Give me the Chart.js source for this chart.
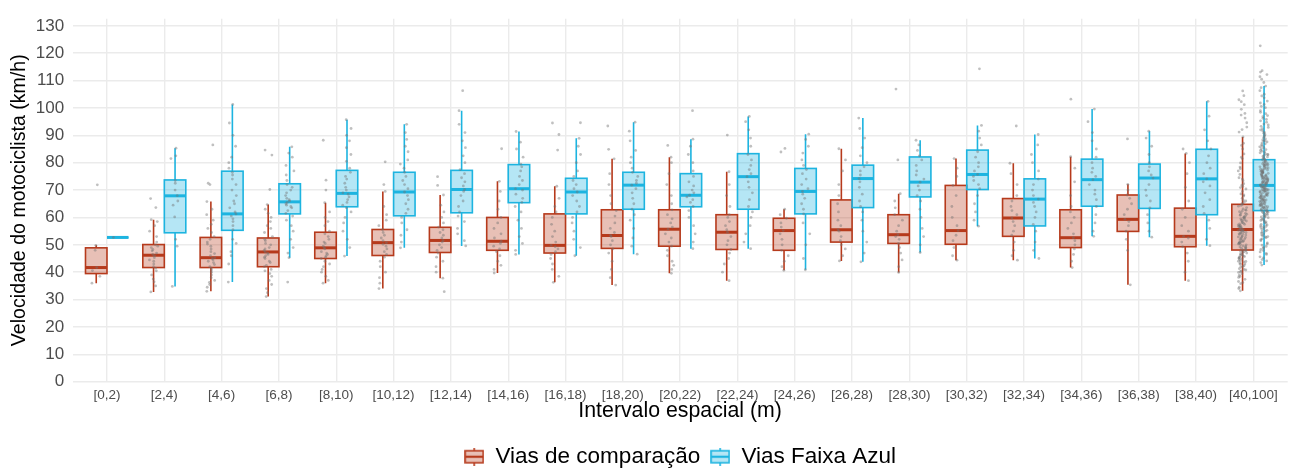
<!DOCTYPE html>
<html>
<head>
<meta charset="utf-8">
<script src="https://cdn.jsdelivr.net/npm/chart.js@4.4.1/dist/chart.umd.min.js"></script>
<style>
  html, body { margin: 0; padding: 0; background: #ffffff; overflow: hidden; }
  #wrap { width: 1290px; height: 471px; }
</style>
</head>
<body>
<div id="wrap"><canvas id="c" width="1290" height="471"></canvas></div>
<script>
// ---------------- DATA ----------------
const categories = ["[0,2)","[2,4)","[4,6)","[6,8)","[8,10)","[10,12)","[12,14)","[14,16)","[16,18)","[18,20)","[20,22)","[22,24)","[24,26)","[26,28)","[28,30)","[30,32)","[32,34)","[34,36)","[36,38)","[38,40)","[40,100]"];
const yTicks = [0,10,20,30,40,50,60,70,80,90,100,110,120,130];
const seriesNames = ["Vias de comparação", "Vias Faixa Azul"];

// Vias de comparação : box statistics
const compLo  = [36.0,32.8,33.0,31.1,36.0,34.0,37.8,39.7,36.3,35.3,39.6,36.9,40.7,44.1,39.9,44.4,44.4,41.7,35.4,36.9,33.2];
const compQ1  = [39.5,41.7,41.7,42.0,45.0,46.1,47.2,48.0,47.0,48.7,49.5,48.3,48.0,51.0,50.5,50.2,53.1,49.0,54.9,49.3,48.1];
const compMed = [41.7,46.2,45.3,47.4,48.9,50.8,51.6,51.3,49.8,53.4,55.7,54.6,55.2,55.5,53.7,55.2,59.8,52.6,59.3,53.1,55.6];
const compQ3  = [48.9,50.1,52.7,52.5,54.6,55.6,56.4,60.0,61.3,62.8,62.8,61.0,59.7,66.4,61.0,71.7,66.9,62.8,68.2,63.4,64.8];
const compHi  = [49.8,59.2,65.8,64.7,65.4,69.5,68.2,73.2,71.4,81.4,82.0,76.7,63.0,85.1,68.7,81.5,79.8,82.2,72.1,83.4,89.4];

// Vias Faixa Azul : box statistics
const azulLo  = [52.7,34.8,36.4,45.3,45.9,48.9,49.6,46.5,46.0,46.6,48.6,48.6,40.9,43.8,47.2,56.8,45.0,53.1,52.8,49.7,42.6];
const azulQ1  = [52.7,54.4,55.3,61.3,63.9,60.6,61.7,65.4,61.3,63.0,63.9,63.0,61.3,63.6,67.5,70.2,56.9,64.1,63.3,61.0,62.5];
const azulMed = [52.7,67.9,61.3,65.7,68.8,69.3,70.2,70.5,69.3,71.8,68.1,74.9,69.5,74.2,72.9,75.7,66.7,73.8,74.4,74.1,71.7];
const azulQ3  = [52.7,73.7,76.9,72.3,77.2,76.5,77.2,79.3,74.3,76.5,76.0,83.3,77.9,79.1,82.1,84.6,74.1,81.3,79.5,84.9,81.1];
const azulHi  = [52.7,85.3,101.3,85.8,95.7,94.0,99.0,91.4,88.9,94.8,88.6,96.9,90.4,96.3,88.2,93.6,90.3,99.6,91.5,102.4,108.0];

// individual observations (km/h) per interval
const compPts = [
  [36.0,38.5,40.6,41.7,48.0,49.8,71.9],
  [32.8,35.0,36.5,37.5,39.0,40.5,41.5,42.0,43.0,44.0,44.5,45.3,46.0,46.5,47.0,47.8,48.3,49.0,49.5,50.0,51.0,53.0,55.0,57.0,58.5,59.2,63.6,66.9],
  [33.0,34.5,35.5,36.3,37.0,38.0,39.0,40.0,40.8,41.5,42.0,42.8,43.5,44.0,44.5,45.0,45.3,46.0,46.8,47.5,48.5,49.5,50.3,51.0,52.0,53.0,54.5,56.0,57.5,59.0,61.0,63.0,65.8,72.0,72.5,86.5],
  [31.1,32.5,34.0,35.5,37.0,38.5,39.5,40.5,41.0,42.0,42.5,43.5,44.0,45.0,45.5,46.0,46.5,47.0,47.4,48.0,48.5,49.0,50.0,50.5,51.5,52.0,53.0,54.5,56.0,57.0,58.5,60.0,61.5,63.0,64.7,70.2,82.8,84.6],
  [36.0,37.0,38.5,40.0,41.0,42.0,43.0,44.0,45.0,45.5,46.0,46.5,47.0,47.5,48.5,48.9,49.5,50.5,51.0,52.0,53.0,54.0,55.0,57.0,58.5,60.0,62.0,65.4,70.0,73.6,88.2],
  [34.0,36.0,38.0,40.0,42.0,44.0,45.5,46.5,47.5,48.5,49.5,50.2,50.8,51.5,52.5,53.5,54.5,55.5,57.0,59.0,61.0,64.0,69.5,72.0,80.3],
  [32.9,37.8,40.0,42.0,44.0,45.5,47.0,48.0,49.0,50.0,51.0,51.6,52.5,53.5,54.5,55.5,56.5,58.0,60.0,62.0,64.5,68.2,71.7,74.9],
  [39.7,41.0,42.5,44.0,46.0,47.5,48.5,49.5,50.5,51.3,52.5,54.0,56.0,58.0,60.0,63.0,66.0,69.5,73.2,85.1],
  [36.3,38.5,41.0,43.0,45.0,46.5,47.5,48.5,49.3,49.8,51.0,53.0,55.0,57.5,60.0,62.0,64.0,67.0,71.4,84.6,90.3,94.5],
  [35.3,38.0,41.0,44.0,47.0,48.5,50.0,51.5,53.0,53.4,54.5,56.0,58.0,60.5,62.5,65.0,68.0,72.0,76.0,81.4,84.9,93.4],
  [39.6,41.0,42.5,44.0,46.0,48.0,49.5,51.0,52.5,54.0,55.7,56.5,58.0,59.5,61.0,62.8,65.0,68.0,72.0,76.0,80.0,82.0,86.3],
  [36.9,40.0,43.0,45.0,47.0,48.3,50.0,51.5,53.0,54.6,55.5,57.0,58.5,60.0,61.0,64.0,68.0,72.0,76.7,90.1],
  [40.7,42.0,44.0,46.0,48.0,50.0,52.0,54.0,55.2,56.5,58.0,59.7,61.0,63.0,83.9,85.2],
  [44.1,46.0,48.5,50.0,51.5,53.0,55.0,55.5,57.0,59.0,62.0,65.0,68.0,72.0,77.0,81.0,85.1],
  [39.9,42.0,44.5,47.0,49.0,50.5,52.0,53.0,53.7,55.0,57.0,59.0,61.0,63.5,66.0,68.7,81.0,106.9],
  [44.4,46.0,49.0,51.5,53.5,55.2,57.0,60.0,64.0,68.0,71.7,75.0,78.0,81.5],
  [44.4,46.0,48.0,51.0,53.5,55.0,57.0,58.5,59.8,61.0,62.5,64.0,66.0,68.0,72.0,76.0,79.8,93.4],
  [41.7,44.0,46.5,48.5,50.0,51.5,52.6,54.0,56.0,58.0,60.0,62.0,64.0,68.0,73.0,78.0,82.2,103.2],
  [35.4,48.0,52.0,55.0,57.0,58.5,59.3,61.0,63.0,65.0,67.0,68.2,70.0,72.1,88.7],
  [36.9,40.0,44.0,47.0,49.3,51.0,52.5,53.1,55.0,57.0,60.0,63.0,66.0,71.0,76.0,80.0,83.4,85.0],
  [33.2,34.5,35.8,36.6,37.4,38.1,38.9,39.5,40.2,40.8,41.3,41.9,42.4,42.9,43.3,43.8,44.2,44.7,45.1,45.5,45.9,46.3,46.7,47.0,47.4,47.8,48.1,48.5,48.9,49.2,49.6,50.0,50.3,50.7,51.0,51.4,51.8,52.1,52.5,52.9,53.2,53.6,54.0,54.3,54.7,55.0,55.4,55.6,56.0,56.4,56.8,57.1,57.5,57.9,58.3,58.7,59.1,59.5,59.9,60.3,60.8,61.2,61.7,62.1,62.6,63.1,63.6,64.1,64.8,65.5,66.3,67.0,67.8,68.6,69.5,70.4,71.3,72.3,73.4,74.5,75.7,77.0,78.4,79.9,81.5,83.2,85.0,87.1,89.4,91.2,93.0,94.6,96.3,98.0,99.5,101.2,103.0,104.5,106.2,49.0,51.2,53.9,55.3,57.6,60.0,62.4,46.1,44.0,52.7,50.5,54.5,56.6,58.9,47.6,
   34.0,36.2,38.4,39.9,41.0,42.1,43.0,43.9,44.9,45.7,46.5,47.2,48.0,48.7,49.4,50.1,50.8,51.6,52.3,53.0,53.8,54.5,55.2,55.8,56.5,57.3,58.1,58.9,59.7,60.6,61.5,62.8,64.4,66.0,68.2,70.9,74.0,77.8,82.0,86.3,92.1,97.4,102.3,40.4,45.3,50.9,56.9,61.0,65.0,71.8]
];
const azulPts = [
  [52.7],
  [34.8,49.5,52.0,60.2,64.5,66.0,68.0,70.0,72.5,73.5,81.5,82.5,85.3],
  [36.4,43.0,46.0,47.5,50.5,52.0,55.5,57.0,58.5,59.5,60.5,61.3,62.0,63.5,65.0,66.0,68.0,70.0,72.0,74.0,75.5,76.5,78.0,80.0,82.0,86.0,90.0,94.5,101.3],
  [36.4,45.3,47.0,49.0,52.0,55.0,57.0,59.0,60.5,61.5,62.5,63.5,64.0,64.5,65.0,65.5,66.0,66.5,67.0,68.0,69.0,70.0,71.0,72.0,73.5,75.5,77.0,79.0,82.0,83.5,85.8],
  [45.9,49.0,52.0,55.0,58.0,60.0,62.0,63.5,64.5,65.5,66.5,67.5,68.5,69.0,70.0,71.0,72.5,74.0,75.0,76.5,78.0,80.5,83.0,85.5,88.0,90.0,92.5,95.7],
  [48.9,51.0,53.5,55.5,58.0,60.0,61.5,63.0,65.0,66.5,68.0,69.3,70.5,72.0,73.5,75.0,76.5,78.0,79.5,81.0,84.0,86.0,88.5,91.0,94.0],
  [49.6,51.5,54.0,56.0,58.5,60.5,62.0,64.0,66.0,68.0,69.5,70.2,71.5,73.0,74.5,76.0,77.5,80.0,82.5,85.5,88.0,91.0,94.0,99.0,106.3],
  [46.5,48.0,50.5,53.0,56.0,59.0,62.0,64.0,65.5,67.0,68.5,70.0,70.5,72.0,73.5,75.0,77.0,78.5,79.5,82.0,85.0,87.5,91.4],
  [46.0,49.0,52.0,55.0,58.0,60.0,62.0,64.0,66.0,68.0,69.3,70.5,72.0,73.5,75.0,77.0,80.0,83.0,86.0,88.9,94.6],
  [46.6,49.5,52.5,56.0,59.0,61.0,63.0,65.0,67.0,69.0,70.5,71.8,72.5,73.5,75.0,76.5,78.0,80.0,82.0,84.5,88.0,91.5,94.8],
  [48.6,51.0,54.0,57.0,60.0,62.5,64.0,65.5,66.5,67.5,68.1,69.0,70.0,71.5,73.0,75.0,77.0,80.0,83.0,86.0,88.6,99.0],
  [48.6,51.0,54.0,57.0,60.0,62.0,64.0,66.5,69.0,71.0,73.0,74.9,76.0,77.5,79.0,81.0,83.0,86.0,89.0,92.0,95.0,96.9],
  [40.9,45.0,50.0,54.0,58.0,61.3,63.0,65.0,67.0,68.5,69.5,70.5,72.0,74.0,76.0,77.5,79.0,81.0,83.5,86.0,88.5,90.4],
  [43.8,47.0,51.0,55.0,59.0,62.0,64.0,66.0,68.5,71.0,73.0,74.2,75.5,77.0,78.5,80.0,82.5,85.5,89.0,92.5,96.3],
  [47.2,50.0,53.0,56.0,60.0,63.0,66.0,68.0,70.0,71.5,72.9,74.0,75.5,77.0,79.0,81.0,82.5,84.5,86.5,88.2],
  [56.8,59.0,62.0,65.0,68.0,70.5,72.0,73.5,75.0,75.7,77.0,78.5,80.0,82.0,84.0,86.5,89.0,91.5,93.6,114.3],
  [45.0,48.0,51.0,55.0,57.5,60.0,62.0,64.0,65.5,66.7,68.0,70.0,72.0,74.0,77.0,80.0,83.0,86.5,90.3],
  [53.1,55.0,58.0,61.0,64.0,66.5,68.5,70.0,72.0,73.8,75.0,76.5,78.0,80.0,82.0,85.0,88.0,91.0,95.0,99.6],
  [52.8,55.0,58.0,61.0,63.5,66.0,68.0,70.0,72.0,74.4,75.5,77.0,78.5,80.0,83.0,86.0,89.0,91.5],
  [49.7,52.0,56.0,59.0,61.5,64.0,66.5,69.0,71.5,73.0,74.1,76.0,78.0,80.0,82.5,85.0,88.0,92.0,97.0,102.4],
  [42.6,43.5,44.6,45.6,46.5,47.4,48.3,49.1,49.9,50.7,51.5,52.2,52.9,53.6,54.3,55.0,55.6,56.3,56.9,57.5,58.1,58.7,59.3,59.9,60.4,61.0,61.5,62.0,62.5,63.0,63.4,63.9,64.3,64.8,65.2,65.6,66.0,66.4,66.8,67.2,67.6,68.0,68.4,68.8,69.2,69.6,70.0,70.4,70.8,71.2,71.7,72.1,72.5,72.9,73.3,73.7,74.1,74.5,74.9,75.3,75.7,76.1,76.5,76.9,77.3,77.7,78.1,78.5,78.9,79.3,79.7,80.2,80.6,81.1,81.6,82.1,82.7,83.3,83.9,84.5,85.1,85.8,86.5,87.2,87.9,88.7,89.5,90.3,91.1,92.0,92.9,93.8,94.8,95.8,96.8,97.9,99.0,100.1,101.3,102.5,103.7,105.0,106.3,107.4,108.0,109.3,110.5,111.4,112.2,113.1,113.6,122.7,60.7,62.2,64.6,66.2,67.9,69.4,70.6,71.5,72.3,73.1,74.3,75.5,76.7,78.3,79.9,82.4,57.2,54.7,51.9,48.7,86.1,89.1,93.3,97.2,69.9,71.0,73.9,65.9,63.7,77.5,68.2,70.2,72.7,74.7,76.3,79.0,80.9,84.2,66.6,64.0,61.8,59.6,56.6,53.3,88.3,91.6,95.3,100.6,104.4,75.0,
   45.2,47.9,50.3,52.6,54.0,55.3,56.0,57.8,58.4,59.1,60.1,60.9,61.3,61.9,62.3,62.8,63.2,63.6,64.1,64.5,65.0,65.4,65.8,66.3,66.7,67.1,67.5,67.8,68.3,68.6,69.0,69.3,69.7,70.1,70.5,70.9,71.3,71.6,71.9,72.2,72.6,73.0,73.4,73.8,74.2,74.6,75.1,75.4,75.9,76.2,76.6,77.1,77.6,78.0,78.7,79.2,79.6,80.4,81.3,81.8,82.9,83.6,84.8,85.5,86.9,87.6,89.9,90.8,92.4,94.1,96.2,98.4,101.8,44.1,46.9,49.4,53.0,56.7,58.9,60.2,62.7,64.9,67.4,69.8,72.8,74.0,76.8,79.4,83.0,88.0]
];

// ---------------- STYLE ----------------
const compStroke = '#B63A1C', compFill = 'rgba(182,58,28,0.32)';
const azulStroke = '#1DB4E0', azulFill = 'rgba(29,180,224,0.33)';
const dodge = 0.1875, halfBox = 0.1875;
const FONT = "'Liberation Sans', Arial, sans-serif";

// deterministic horizontal jitter (display only, hash of point index)
function jitter(i, j) {
  const h = Math.sin(j * 12.9898 + i * 78.233) * 43758.5453;
  return ((h - Math.floor(h)) - 0.5) * 0.15;
}
function buildPoints(pts, offset) {
  const out = [];
  pts.forEach((vals, i) => vals.forEach((v, j) => out.push({ x: i + offset + jitter(i, j), y: v })));
  return out;
}

function legendIcon(stroke, fill) {
  const c = document.createElement('canvas');
  c.width = 20; c.height = 18;
  const g = c.getContext('2d');
  g.strokeStyle = stroke; g.lineWidth = 1.6;
  g.beginPath(); g.moveTo(10, 0); g.lineTo(10, 3); g.moveTo(10, 15); g.lineTo(10, 18); g.stroke();
  g.fillStyle = '#ffffff'; g.fillRect(1, 3, 18, 12);
  g.fillStyle = fill; g.fillRect(1, 3, 18, 12);
  g.strokeRect(1, 3, 18, 12);
  g.lineWidth = 2.2; g.beginPath(); g.moveTo(1, 9); g.lineTo(19, 9); g.stroke();
  return c;
}

const series = [
  { offset: -dodge, lo: compLo, q1: compQ1, med: compMed, q3: compQ3, hi: compHi, stroke: compStroke, fill: compFill },
  { offset:  dodge, lo: azulLo, q1: azulQ1, med: azulMed, q3: azulQ3, hi: azulHi, stroke: azulStroke, fill: azulFill }
];

const boxPlugin = {
  id: 'boxplots',
  afterLayout(chart) {
    const lg = chart.legend;
    if (!lg) return;
    const ca = chart.chartArea;
    const dx = (ca.left + ca.right) / 2 - (lg.left + lg.right) / 2;
    const dy = 7;
    lg.left += dx; lg.right += dx; lg.top += dy; lg.bottom += dy;
  },
  beforeDatasetsDraw(chart) {
    const { ctx, scales: { x, y } } = chart;
    ctx.save();
    series.forEach(s => {
      for (let i = 0; i < categories.length; i++) {
        const xc = i + s.offset;
        const xl = x.getPixelForValue(xc - halfBox);
        const xr = x.getPixelForValue(xc + halfBox);
        const xm = x.getPixelForValue(xc);
        const pLo = y.getPixelForValue(s.lo[i]);
        const pQ1 = y.getPixelForValue(s.q1[i]);
        const pMed = y.getPixelForValue(s.med[i]);
        const pQ3 = y.getPixelForValue(s.q3[i]);
        const pHi = y.getPixelForValue(s.hi[i]);
        ctx.strokeStyle = s.stroke;
        ctx.lineWidth = 1.6;
        ctx.beginPath();
        ctx.moveTo(xm, pLo); ctx.lineTo(xm, pQ1);
        ctx.moveTo(xm, pQ3); ctx.lineTo(xm, pHi);
        ctx.stroke();
        ctx.fillStyle = s.fill;
        ctx.fillRect(xl, pQ3, xr - xl, pQ1 - pQ3);
        ctx.strokeRect(xl, pQ3, xr - xl, pQ1 - pQ3);
        ctx.lineWidth = 3;
        ctx.beginPath(); ctx.moveTo(xl, pMed); ctx.lineTo(xr, pMed); ctx.stroke();
      }
    });
    ctx.restore();
  }
};

const icons = [legendIcon(compStroke, compFill), legendIcon(azulStroke, azulFill)];
const pointColor = 'rgba(115,115,115,0.45)';

new Chart(document.getElementById('c'), {
  type: 'scatter',
  data: {
    datasets: [
      { label: seriesNames[0], data: buildPoints(compPts, -dodge), pointRadius: 1.4, pointBackgroundColor: pointColor, pointBorderWidth: 0, pointHoverRadius: 1.4 },
      { label: seriesNames[1], data: buildPoints(azulPts, dodge), pointRadius: 1.4, pointBackgroundColor: pointColor, pointBorderWidth: 0, pointHoverRadius: 1.4 }
    ]
  },
  options: {
    responsive: false,
    animation: false,
    devicePixelRatio: 1,
    layout: { padding: { top: 13.3, right: 2.3, left: 0, bottom: 0 } },
    plugins: {
      tooltip: { enabled: false },
      legend: {
        position: 'bottom',
        onClick: null,
        labels: {
          usePointStyle: true,
          pointStyleWidth: 20,
          padding: 10,
          color: '#000000',
          font: { family: FONT, size: 22.5 },
          generateLabels: () => seriesNames.map((n, k) => ({
            text: n, pointStyle: icons[k], fillStyle: 'transparent', strokeStyle: 'transparent',
            lineWidth: 0, hidden: false, datasetIndex: k, fontColor: '#000000'
          }))
        }
      }
    },
    scales: {
      x: {
        type: 'linear',
        min: -0.6, max: 20.6,
        afterBuildTicks: axis => { axis.ticks = categories.map((c, i) => ({ value: i })); },
        afterFit: axis => { axis.height = 46.8; },
        grid: { color: '#EBEBEB', lineWidth: 1.4, drawTicks: false },
        border: { display: false },
        ticks: {
          autoSkip: false, maxRotation: 0, padding: 5,
          color: '#4D4D4D', font: { family: FONT, size: 13.5 },
          callback: v => categories[v]
        },
        title: { display: true, text: 'Intervalo espacial (m)', color: '#000000', font: { family: FONT, size: 21.3 }, padding: { top: 0, bottom: 5 } }
      },
      y: {
        type: 'linear',
        min: 0, max: 132.6,
        afterBuildTicks: axis => { axis.ticks = yTicks.map(v => ({ value: v })); },
        afterFit: axis => { axis.width = 72.6; },
        grid: { color: '#EBEBEB', lineWidth: 1.4, drawTicks: false },
        border: { display: false },
        ticks: { padding: 8.5, color: '#4D4D4D', font: { family: FONT, size: 17 } },
        title: { display: true, text: 'Velocidade do motociclista (km/h)', color: '#000000', font: { family: FONT, size: 19.6 }, padding: { top: 7.5, bottom: 0 } }
      }
    }
  },
  plugins: [boxPlugin]
});
</script>
</body>
</html>
